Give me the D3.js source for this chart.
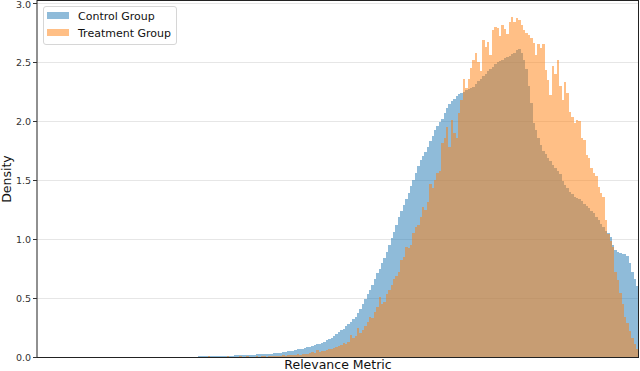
<!DOCTYPE html>
<html>
<head>
<meta charset="utf-8">
<script src="https://cdn.jsdelivr.net/npm/d3@7"></script>
<style>
  body { margin: 0; background: #fff; }
  text { font-family: 'DejaVu Sans', sans-serif; }
</style>
</head>
<body>
<svg id="chart" width="640" height="371"></svg>
<script>
// histogram bins: first bin edge and width (relevance metric units)
const BIN_START = 0.264;
const BIN_WIDTH = 0.004;

const SERIES = ['Control Group', 'Treatment Group'];

// density per bin
const controlDensity = [
  0.004, 0.005, 0.005, 0.006, 0.006, 0.007, 0.007, 0.008, 0.008, 0.009, 0.009, 0.01, 0.01, 0.011,
  0.012, 0.012, 0.013, 0.014, 0.015, 0.016, 0.017, 0.018, 0.019, 0.02,
  0.021, 0.022, 0.023, 0.024, 0.025, 0.026, 0.027, 0.029, 0.03, 0.031,
  0.033, 0.036, 0.04, 0.043, 0.047, 0.051, 0.055, 0.06, 0.064, 0.068,
  0.072, 0.078, 0.083, 0.088, 0.094, 0.1, 0.106, 0.113, 0.12, 0.128,
  0.14, 0.15, 0.165, 0.18, 0.195, 0.21, 0.225, 0.24, 0.26, 0.28,
  0.30, 0.32, 0.34, 0.37, 0.41, 0.45, 0.49, 0.53, 0.57, 0.61,
  0.66, 0.71, 0.75, 0.80, 0.84, 0.89, 0.95, 1.01, 1.06, 1.12,
  1.19, 1.24, 1.29, 1.34, 1.39, 1.45, 1.50, 1.56, 1.62, 1.67,
  1.70, 1.74, 1.78, 1.83, 1.87, 1.92, 1.96, 1.99, 2.02, 2.07,
  2.11, 2.14, 2.17, 2.19, 2.21, 2.23, 2.24, 2.25, 2.26, 2.27,
  2.28, 2.29, 2.31, 2.34, 2.36, 2.38, 2.40, 2.42, 2.44, 2.46,
  2.48, 2.50, 2.51, 2.52, 2.53, 2.54, 2.55, 2.57, 2.58, 2.60,
  2.61, 2.58, 2.52, 2.44, 2.30, 2.15, 1.98, 1.92, 1.86, 1.80,
  1.75, 1.72, 1.69, 1.66, 1.63, 1.60, 1.58, 1.55, 1.49, 1.46,
  1.43, 1.40, 1.38, 1.36, 1.35, 1.34, 1.32, 1.30, 1.28, 1.26,
  1.24, 1.22, 1.19, 1.16, 1.13, 1.10, 1.07, 1.05, 1.02, 0.95,
  0.91, 0.89, 0.88, 0.87, 0.87, 0.86, 0.80, 0.72, 0.66, 0.60,
];

const treatmentDensity = [
  0, 0, 0, 0, 0, 0.01, 0, 0, 0, 0, 0, 0, 0, 0.006,
  0, 0, 0, 0, 0.008, 0.003, 0, 0.008, 0, 0.003,
  0.004, 0.008, 0.003, 0.005, 0.006, 0.004, 0.006, 0.008, 0.007, 0.01,
  0.012, 0.01, 0.015, 0.012, 0.018, 0.015, 0.02, 0.018, 0.022, 0.02,
  0.025, 0.028, 0.024, 0.032, 0.045, 0.035, 0.06, 0.04, 0.05, 0.055,
  0.06, 0.07, 0.065, 0.08, 0.085, 0.095, 0.1, 0.12, 0.11, 0.13,
  0.19, 0.16, 0.18, 0.25, 0.2, 0.23, 0.26, 0.3, 0.34, 0.33,
  0.38, 0.42, 0.51, 0.45, 0.47, 0.53, 0.57, 0.61, 0.66, 0.69,
  0.72, 0.82, 0.85, 0.93, 0.92, 0.95, 1.05, 1.1, 1.12, 1.19,
  1.27, 1.25, 1.31, 1.47, 1.43, 1.5, 1.56, 1.58, 1.81, 1.86,
  1.95, 1.78, 2.01, 1.9, 1.86, 2.07, 2.18, 2.36, 2.28, 2.36,
  2.45, 2.52, 2.58, 2.5, 2.42, 2.69, 2.63, 2.67, 2.56, 2.77,
  2.80, 2.79, 2.72, 2.81, 2.78, 2.74, 2.84, 2.88, 2.84, 2.87,
  2.86, 2.81, 2.77, 2.75, 2.73, 2.70, 2.66, 2.56, 2.65, 2.62,
  2.65, 2.43, 2.35, 2.22, 2.47, 2.40, 2.52, 2.30, 2.18, 2.33,
  2.24, 2.08, 2.03, 1.98, 2.01, 2.00, 1.86, 1.84, 1.71, 1.69,
  1.60, 1.56, 1.53, 1.44, 1.39, 1.36, 1.16, 1.04, 0.98, 0.93,
  0.72, 0.65, 0.54, 0.45, 0.34, 0.29, 0.22, 0.16, 0.11, 0.07,
];

const yTicks = [0.0, 0.5, 1.0, 1.5, 2.0, 2.5, 3.0];

const COLORS = ['#1f77b4', '#ff7f0e'];

const PLOT = { left: 37, right: 638.5, top: 0.5, bottom: 357.5 };

const svg = d3.select('#chart');

const x = d3.scaleLinear().domain([0, 1]).range([PLOT.left, PLOT.right]);
const y = d3.scaleLinear().domain([0, 3]).range([357, 3]);

// grid
svg.append('g')
  .attr('id', 'grid')
  .selectAll('line')
  .data(yTicks.slice(1))
  .join('line')
  .attr('x1', PLOT.left)
  .attr('x2', PLOT.right)
  .attr('y1', d => Math.round(y(d)) + 0.5)
  .attr('y2', d => Math.round(y(d)) + 0.5)
  .attr('stroke', '#e6e6e6')
  .attr('stroke-width', 1);

const toBins = (values) => values.map((v, i) => ({
  x0: BIN_START + i * BIN_WIDTH,
  x1: BIN_START + (i + 1) * BIN_WIDTH,
  v,
}));

const seriesData = [controlDensity, treatmentDensity];

// snap bin edges to whole pixels so neighbouring bars never overlap
const px = (v) => Math.round(x(v));

svg.append('g')
  .attr('id', 'bars')
  .selectAll('g')
  .data(seriesData)
  .join('g')
  .attr('fill', (_d, i) => COLORS[i])
  .attr('fill-opacity', 0.5)
  .selectAll('rect')
  .data(d => toBins(d).filter(b => b.v > 0))
  .join('rect')
  .attr('x', d => px(d.x0))
  .attr('width', d => Math.min(px(d.x1), 638) - px(d.x0))
  .attr('y', d => y(d.v))
  .attr('height', d => y(0) - y(d.v))
  .attr('shape-rendering', 'crispEdges');

// frame
svg.append('rect')
  .attr('x', PLOT.left)
  .attr('y', PLOT.top)
  .attr('width', PLOT.right - PLOT.left)
  .attr('height', PLOT.bottom - PLOT.top)
  .attr('fill', 'none')
  .attr('stroke', '#222')
  .attr('stroke-width', 1);

// y axis
const yAxis = d3.axisLeft(y)
  .tickValues(yTicks)
  .tickFormat(d3.format('.1f'))
  .tickSize(4)
  .tickPadding(2);

svg.append('g')
  .attr('transform', `translate(${PLOT.left},0)`)
  .call(yAxis)
  .call(g => g.select('.domain').remove())
  .call(g => g.selectAll('line').attr('stroke', '#333'))
  .call(g => g.selectAll('text')
    .attr('fill', '#333')
    .style('font-size', '9.5px'))
  // top label sits against the edge; nudge it down so it stays whole
  .call(g => g.selectAll('text').filter(d => d === 3).attr('dy', '0.5em'));

svg.append('text')
  .attr('transform', `translate(11,${(PLOT.top + PLOT.bottom) / 2}) rotate(-90)`)
  .attr('text-anchor', 'middle')
  .style('font-size', '12.5px')
  .attr('fill', '#111')
  .text('Density');

svg.append('text')
  .attr('x', 338)
  .attr('y', 369)
  .attr('text-anchor', 'middle')
  .style('font-size', '12.5px')
  .attr('fill', '#111')
  .text('Relevance Metric');

// legend
const legend = svg.append('g').attr('id', 'legend');

legend.append('rect')
  .attr('x', 43.5)
  .attr('y', 6.5)
  .attr('width', 133)
  .attr('height', 38)
  .attr('rx', 2.5)
  .attr('fill', '#fff')
  .attr('fill-opacity', 0.8)
  .attr('stroke', '#d6d6d6');

legend.selectAll('g')
  .data(SERIES)
  .join('g')
  .attr('transform', (_d, i) => `translate(47, ${12 + i * 17})`)
  .call(g => g.append('rect')
    .attr('width', 22)
    .attr('height', 7)
    .attr('fill', (_d, i) => COLORS[i])
    .attr('fill-opacity', 0.5))
  .call(g => g.append('text')
    .attr('x', 31)
    .attr('y', 8)
    .style('font-size', '11px')
    .attr('fill', '#111')
    .text(d => d));
</script>
</body>
</html>
